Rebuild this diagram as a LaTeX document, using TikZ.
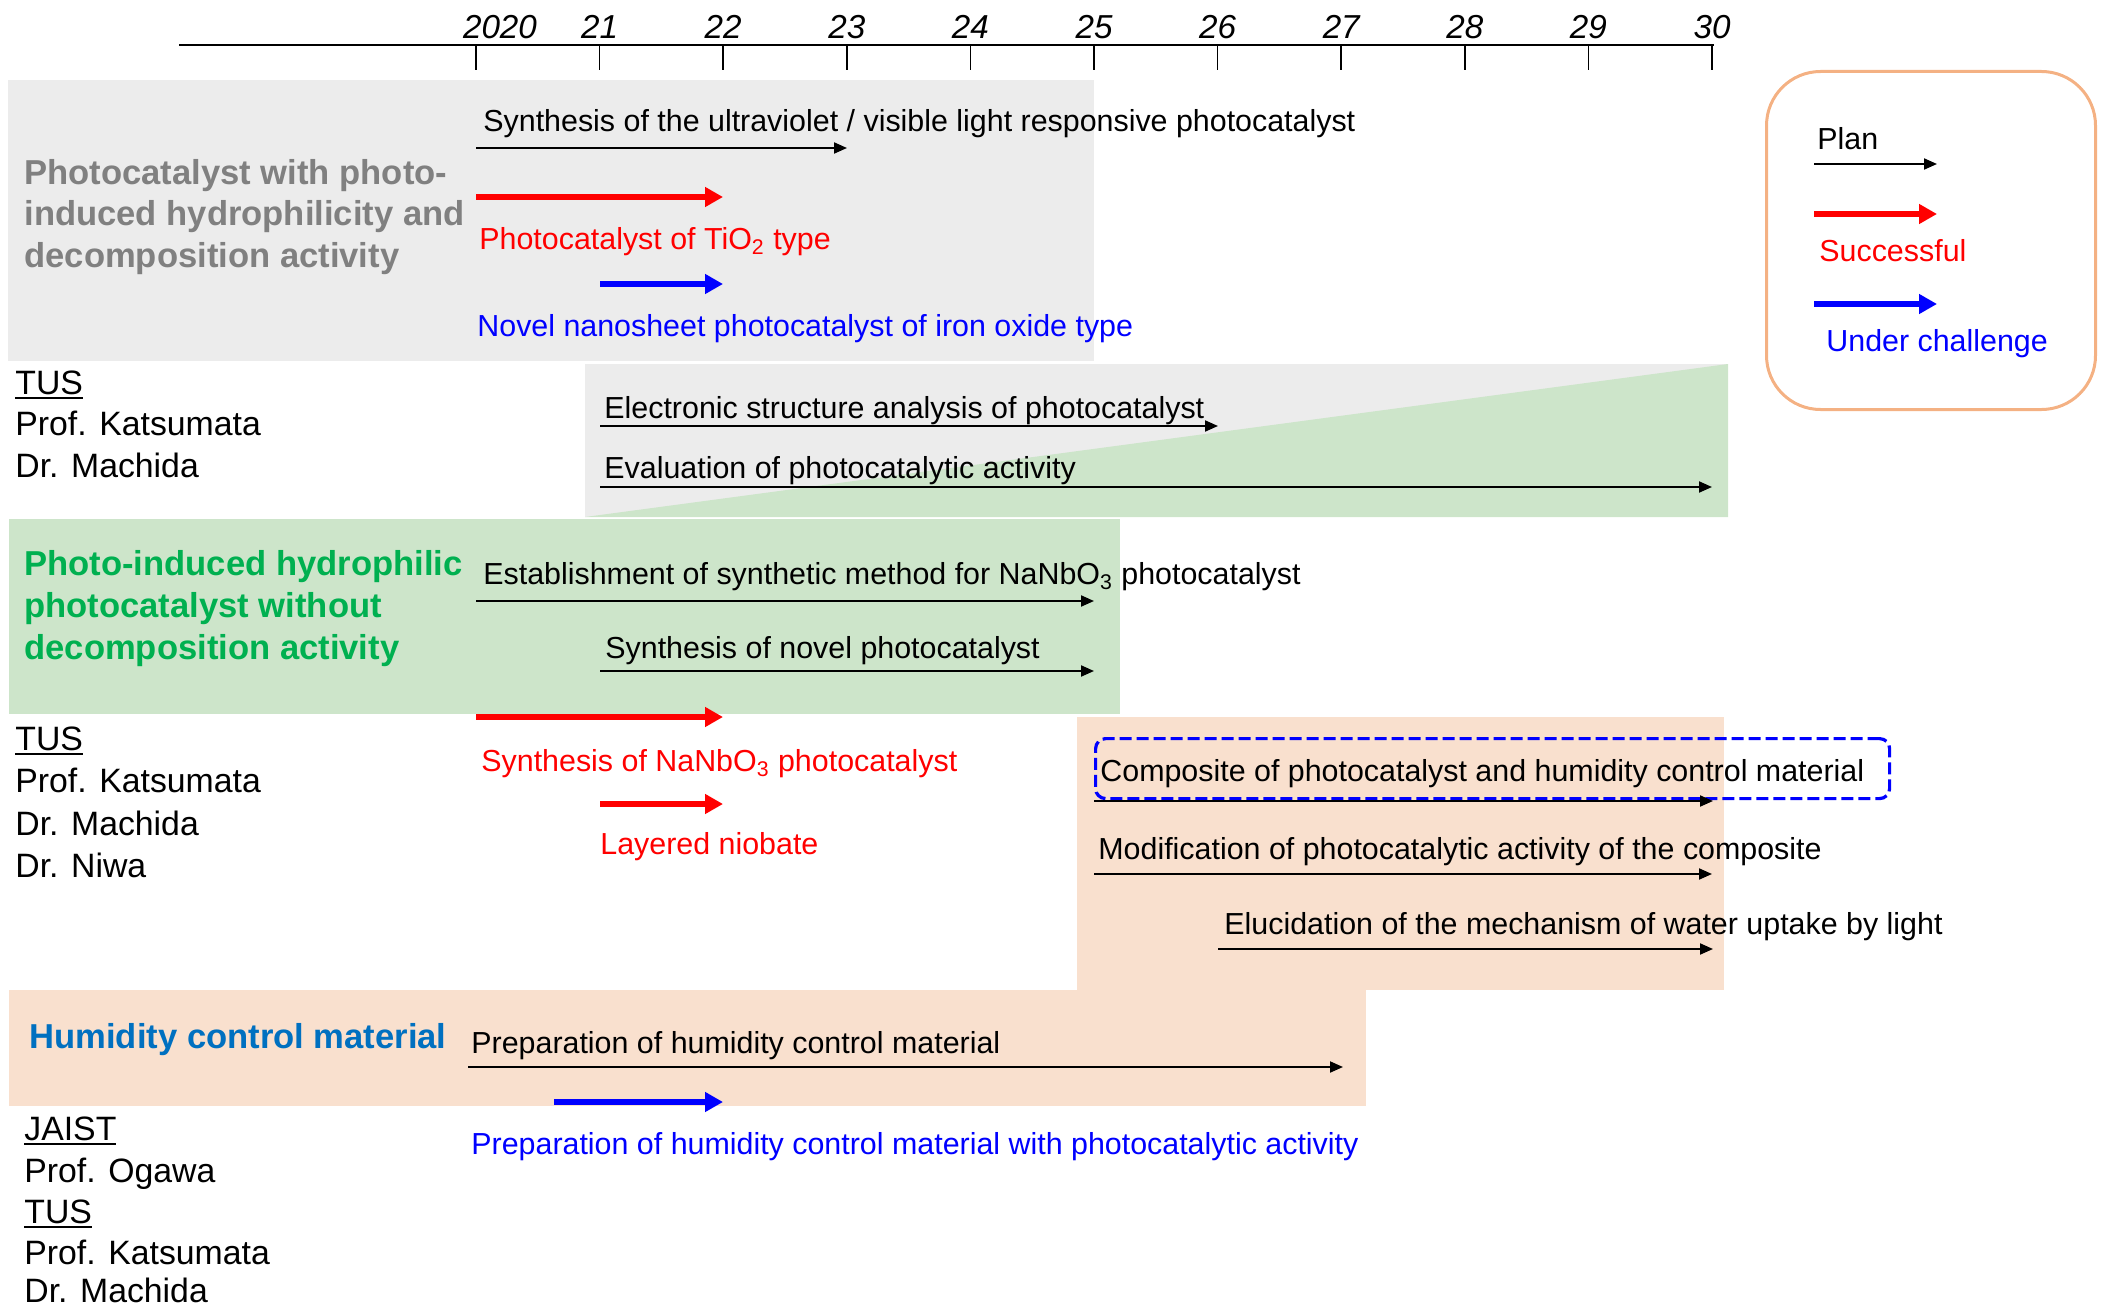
\documentclass[tikz,border=0pt]{standalone}
\usepackage{fontspec}
\setmainfont{Liberation Sans}
\usetikzlibrary{arrows.meta}
\definecolor{boxgray}{RGB}{236,236,236}
\definecolor{boxgreen}{RGB}{205,229,202}
\definecolor{boxpeach}{RGB}{249,224,206}
\definecolor{legendorange}{RGB}{244,177,131}
\definecolor{titlegray}{RGB}{128,128,128}
\definecolor{titlegreen}{RGB}{0,176,80}
\definecolor{titleblue}{RGB}{0,112,192}
\definecolor{pureblue}{RGB}{0,0,255}
\definecolor{purered}{RGB}{255,0,0}
\newcommand\myul[1]{\setbox0\hbox{#1}\rlap{\rule[-2.2pt]{\wd0}{0.9pt}}#1}
\begin{document}
\begin{tikzpicture}[x=0.5pt,y=-0.5pt,
  lbl/.style={anchor=west,inner sep=0pt,yshift=-1.5pt,text height=11.4pt,text depth=3.3pt,font=\fontsize{15.2}{18}\selectfont},
  who/.style={anchor=west,inner sep=0pt,yshift=-1.5pt,text height=13pt,text depth=3.8pt,font=\fontsize{16.9}{21}\selectfont},
  ttl/.style={anchor=west,inner sep=0pt,yshift=-1pt,text height=13pt,text depth=3.8pt,font=\fontsize{17.3}{21}\selectfont\bfseries},
  yr/.style={anchor=base,inner sep=0pt,font=\fontsize{16.6}{20}\selectfont\itshape},
  plan/.style={draw=black,line width=1pt,-{Triangle[length=6.5pt,width=5.5pt]}},
  success/.style={draw=purered,line width=3.2pt,-{Triangle[length=9pt,width=9.5pt]}},
  challenge/.style={draw=pureblue,line width=3.2pt,-{Triangle[length=9pt,width=9.5pt]}},
]
\useasboundingbox (0,0) rectangle (2105,1311);
% background panels
\fill[boxgray] (8,80) rectangle (1094,361);
\fill[boxgray] (585,364) rectangle (1728,517);
\fill[boxgreen] (585,517) -- (1728,364) -- (1728,517) -- cycle;
\fill[boxgreen] (9,519) rectangle (1120,714);
\fill[boxpeach] (1077,717) rectangle (1724,990);
\fill[boxpeach] (9,990) rectangle (1366,1106);
% time axis
\coordinate (axL) at (179,45);
\coordinate (axR) at (1714,45);
\draw[line width=1pt] (axL) -- (axR);
\foreach \i in {0,...,10}{
  \coordinate (t\i) at ({476+123.6*\i},45);
  \draw[line width=0.8pt] (t\i) -- ++(0,25);
}
\node[yr] (y0) at (500,39) {2020};
\foreach \i/\lab in {1/21,2/22,3/23,4/24,5/25,6/26,7/27,8/28,9/29,10/30}{
  \node[yr] (y\i) at ({476+123.6*\i},39) {\lab};
}
% group 1
\node[ttl,text=titlegray] (g1a) at (24,173) {Photocatalyst with photo-};
\node[ttl,text=titlegray] (g1b) at (24,214) {induced hydrophilicity and};
\node[ttl,text=titlegray] (g1c) at (24,256) {decomposition activity};
\node[lbl] (l1) at (483,120) {Synthesis of the ultraviolet / visible light responsive photocatalyst};
\coordinate (a1s) at (476,148); \coordinate (a1e) at (847,148);
\draw[plan] (a1s) -- (a1e);
\coordinate (a2s) at (476,197); \coordinate (a2e) at (723,197);
\draw[success] (a2s) -- (a2e);
\node[lbl,text=purered] (l2) at (479,238) {Photocatalyst of TiO\textsubscript{2} type};
\coordinate (a3s) at (600,284); \coordinate (a3e) at (723,284);
\draw[challenge] (a3s) -- (a3e);
\node[lbl,text=pureblue] (l3) at (477,325) {Novel nanosheet photocatalyst of iron oxide type};
% TUS 1
\node[who] (p1a) at (15,382) {\myul{TUS}};
\node[who] (p1b) at (15,423) {Prof. Katsumata};
\node[who] (p1c) at (15,465) {Dr. Machida};
% group 2
\node[lbl] (l4) at (604,407) {Electronic structure analysis of photocatalyst};
\coordinate (a4s) at (600,426); \coordinate (a4e) at (1218,426);
\draw[plan] (a4s) -- (a4e);
\node[lbl] (l5) at (604,467) {Evaluation of photocatalytic activity};
\coordinate (a5s) at (600,487); \coordinate (a5e) at (1712,487);
\draw[plan] (a5s) -- (a5e);
% group 3
\node[ttl,text=titlegreen] (g3a) at (24,564) {Photo-induced hydrophilic};
\node[ttl,text=titlegreen] (g3b) at (24,606) {photocatalyst without};
\node[ttl,text=titlegreen] (g3c) at (24,648) {decomposition activity};
\node[lbl] (l6) at (483,573) {Establishment of synthetic method for NaNbO\textsubscript{3} photocatalyst};
\coordinate (a6s) at (476,601); \coordinate (a6e) at (1094,601);
\draw[plan] (a6s) -- (a6e);
\node[lbl] (l7) at (605,647) {Synthesis of novel photocatalyst};
\coordinate (a7s) at (600,671); \coordinate (a7e) at (1094,671);
\draw[plan] (a7s) -- (a7e);
\coordinate (a8s) at (476,717); \coordinate (a8e) at (723,717);
\draw[success] (a8s) -- (a8e);
\node[lbl,text=purered] (l8) at (481,760) {Synthesis of NaNbO\textsubscript{3} photocatalyst};
\coordinate (a9s) at (600,804); \coordinate (a9e) at (723,804);
\draw[success] (a9s) -- (a9e);
\node[lbl,text=purered] (l9) at (600,843) {Layered niobate};
% TUS 2
\node[who] (p2a) at (15,738) {\myul{TUS}};
\node[who] (p2b) at (15,780) {Prof. Katsumata};
\node[who] (p2c) at (15,823) {Dr. Machida};
\node[who] (p2d) at (15,865) {Dr. Niwa};
% group 4 (composite)
\node[draw=pureblue,dash pattern=on 6pt off 2.5pt,line width=1.6pt,rounded corners=5pt,
      minimum width=397pt,minimum height=30pt,inner sep=0pt,anchor=north west] (dbox) at (1094,737) {};
\node[lbl] (l10) at (1100,770) {Composite of photocatalyst and humidity control material};
\coordinate (a10s) at (1094,801); \coordinate (a10e) at (1713,801);
\draw[plan] (a10s) -- (a10e);
\node[lbl] (l11) at (1098,848) {Modification of photocatalytic activity of the composite};
\coordinate (a11s) at (1094,874); \coordinate (a11e) at (1712,874);
\draw[plan] (a11s) -- (a11e);
\node[lbl] (l12) at (1224,923) {Elucidation of the mechanism of water uptake by light};
\coordinate (a12s) at (1218,949); \coordinate (a12e) at (1713,949);
\draw[plan] (a12s) -- (a12e);
% group 5 (humidity)
\node[ttl,text=titleblue] (g5) at (29,1037) {Humidity control material};
\node[lbl] (l13) at (471,1042) {Preparation of humidity control material};
\coordinate (a13s) at (468,1067); \coordinate (a13e) at (1343,1067);
\draw[plan] (a13s) -- (a13e);
\coordinate (a14s) at (554,1102); \coordinate (a14e) at (723,1102);
\draw[challenge] (a14s) -- (a14e);
\node[lbl,text=pureblue] (l14) at (471,1143) {Preparation of humidity control material with photocatalytic activity};
\node[who] (p3a) at (24,1128) {\myul{JAIST}};
\node[who] (p3b) at (24,1170) {Prof. Ogawa};
\node[who] (p3c) at (24,1211) {\myul{TUS}};
\node[who] (p3d) at (24,1252) {Prof. Katsumata};
\node[who] (p3e) at (24,1290) {Dr. Machida};
% legend
\node[draw=legendorange,line width=1.5pt,rounded corners=27pt,minimum width=164.5pt,minimum height=169pt,
      inner sep=0pt,anchor=north west] (legend) at (1765,70) {};
\node[lbl] (lp) at (1817,138) {Plan};
\coordinate (b1s) at (1814,164); \coordinate (b1e) at (1937,164);
\draw[plan] (b1s) -- (b1e);
\coordinate (b2s) at (1814,214); \coordinate (b2e) at (1937,214);
\draw[success] (b2s) -- (b2e);
\node[lbl,text=purered] (ls) at (1819,250) {Successful};
\coordinate (b3s) at (1814,304); \coordinate (b3e) at (1937,304);
\draw[challenge] (b3s) -- (b3e);
\node[lbl,text=pureblue] (lc) at (1826,340) {Under challenge};
\end{tikzpicture}
\end{document}
